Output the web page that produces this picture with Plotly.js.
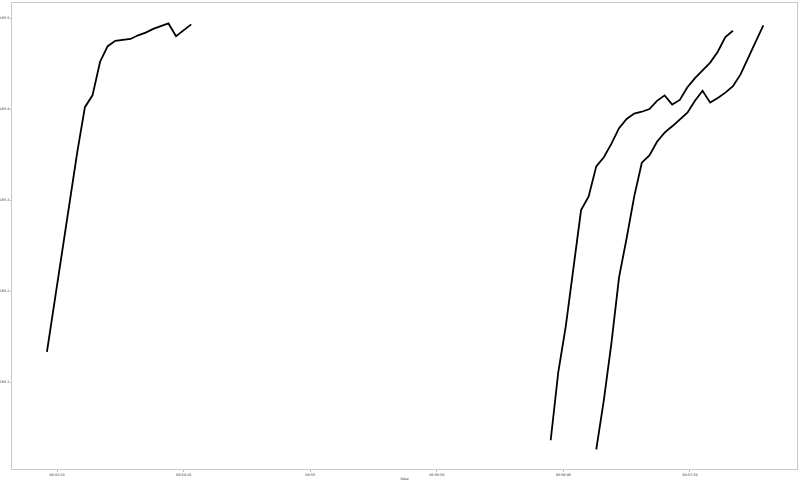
<!DOCTYPE html>
<html>
<head>
<meta charset="utf-8">
<script src="https://cdn.plot.ly/plotly-3.0.1.min.js"></script>
<style>html,body{margin:0;padding:0;background:#fff;}#chart{width:800px;height:481px;}</style>
</head>
<body>
<div id="chart"></div>
<script>
const day = "2024-01-01 ";

const times1 = ["08:53:16","08:53:19","08:53:22","08:53:25","08:53:28","08:53:31","08:53:34","08:53:37","08:53:40","08:53:43",
                "08:53:46","08:53:49","08:53:52","08:53:55","08:53:58","08:54:01","08:54:04","08:54:07","08:54:10","08:54:13"];
const values1 = [165.133,165.188,165.245,165.300,165.353,165.402,165.415,165.452,165.469,165.475,
                 165.476,165.477,165.481,165.484,165.488,165.491,165.494,165.480,165.487,165.493];

const times2 = ["08:56:35","08:56:38","08:56:41","08:56:44","08:56:47","08:56:50","08:56:53","08:56:56","08:56:59","08:57:02",
                "08:57:05","08:57:08","08:57:11","08:57:14","08:57:17","08:57:20","08:57:23","08:57:26","08:57:29","08:57:32",
                "08:57:35","08:57:38","08:57:41","08:57:44","08:57:47"];
const values2 = [165.036,165.111,165.162,165.227,165.289,165.304,165.337,165.347,165.362,165.379,
                 165.389,165.395,165.397,165.400,165.409,165.415,165.405,165.410,165.424,165.434,
                 165.443,165.451,165.463,165.479,165.486];

const times3 = ["08:56:53","08:56:56","08:56:59","08:57:02","08:57:05","08:57:08","08:57:11","08:57:14","08:57:17","08:57:20",
                "08:57:23","08:57:26","08:57:29","08:57:32","08:57:35","08:57:38","08:57:41","08:57:44","08:57:47","08:57:50",
                "08:57:53","08:57:56","08:57:59"];
const values3 = [165.026,165.080,165.143,165.215,165.258,165.304,165.341,165.349,165.364,165.374,
                 165.381,165.389,165.396,165.409,165.420,165.407,165.412,165.418,165.425,165.438,
                 165.457,165.474,165.492];

const xTickTimes = ["08:53:20","08:54:10","08:55:00","08:55:50","08:56:40","08:57:30"];
const xTickLabels = ["08:53:20","08:54:10","08:55","08:55:50","08:56:40","08:57:30"];
const yTickVals = [165.1,165.2,165.3,165.4,165.5];
const yTickLabels = ["165.1","165.2","165.3","165.4","165.5"];
const xRange = ["08:53:02.2","08:58:12.3"];
const yRange = [165.0044,165.5165];

const withDay = arr => arr.map(t => day + t);
const lineStyle = {color:"#000000", width:1.8};

const traces = [
  {x: withDay(times1), y: values1, type:"scatter", mode:"lines", line: lineStyle, showlegend:false},
  {x: withDay(times2), y: values2, type:"scatter", mode:"lines", line: lineStyle, showlegend:false},
  {x: withDay(times3), y: values3, type:"scatter", mode:"lines", line: lineStyle, showlegend:false}
];

const axisFont = {family:"DejaVu Sans", size:3.4, color:"#333"};

const layout = {
  width:800, height:481,
  margin:{l:12, r:3, t:3, b:12, pad:0},
  paper_bgcolor:"#ffffff", plot_bgcolor:"#ffffff",
  showlegend:false,
  xaxis:{
    type:"date",
    range: withDay(xRange),
    tickvals: withDay(xTickTimes),
    ticktext: xTickLabels,
    tickfont: axisFont,
    ticks:"outside", ticklen:1.5, tickcolor:"#bbb",
    showgrid:false, zeroline:false,
    showline:true, mirror:true, linecolor:"#c8c8c8", linewidth:1,
    title:{text:"Date", font:axisFont, standoff:2}
  },
  yaxis:{
    range: yRange,
    tickvals: yTickVals,
    ticktext: yTickLabels,
    tickfont: axisFont,
    ticks:"outside", ticklen:1, tickcolor:"#bbb",
    showgrid:false, zeroline:false,
    showline:true, mirror:true, linecolor:"#c8c8c8", linewidth:1
  }
};

Plotly.newPlot("chart", traces, layout, {displayModeBar:false, staticPlot:true});
</script>
</body>
</html>
